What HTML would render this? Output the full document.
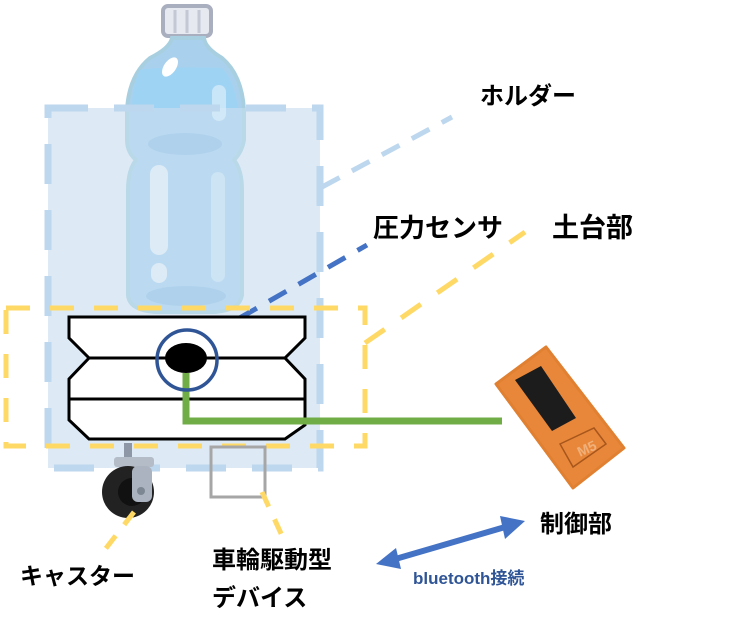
<!DOCTYPE html>
<html><head><meta charset="utf-8"><style>
html,body{margin:0;padding:0;background:#fff;}
svg{display:block;}
text{font-family:"Liberation Sans","Noto Sans CJK JP",sans-serif;font-weight:bold;}
</style></head><body>
<svg width="752" height="633" viewBox="0 0 752 633" xmlns="http://www.w3.org/2000/svg">
<rect x="48" y="108" width="272" height="360" fill="#deeaf6"/>
<!-- bottle -->
<rect x="163" y="6" width="48" height="30" rx="5" fill="#e6e9f0" stroke="#a9afbe" stroke-width="4"/>
<line x1="175" y1="10" x2="175" y2="33" stroke="#c3c8d4" stroke-width="3"/>
<line x1="187" y1="10" x2="187" y2="33" stroke="#c3c8d4" stroke-width="3"/>
<line x1="199" y1="10" x2="199" y2="33" stroke="#c3c8d4" stroke-width="3"/>
<path d="M172 38 L204 38 Q205 48 222 58 Q242 75 244 110 L244 140 Q242 152 234 160 Q242 170 242 190 L242 295 Q240 310 215 312 L155 312 Q129 310 128 295 L128 190 Q128 170 136 160 Q127 152 127 140 L127 110 Q129 75 150 58 Q170 48 172 38 Z" fill="#a9d1ee" stroke="#a8cfe0" stroke-width="4"/>
<path d="M140 70 Q160 66 222 68 Q234 80 238 108 L132 108 Q132 85 140 70Z" fill="#9fd3f3"/>
<ellipse cx="185" cy="144" rx="37" ry="11" fill="#97c4e6"/>
<ellipse cx="186" cy="296" rx="40" ry="10" fill="#97c4e6"/>
<rect x="150" y="165" width="18" height="90" rx="9" fill="#dcebf6"/>
<rect x="151" y="263" width="16" height="20" rx="8" fill="#dcebf6"/>
<rect x="211" y="172" width="14" height="110" rx="7" fill="#c4e0f3"/>
<rect x="212" y="85" width="14" height="36" rx="7" fill="#c9e6f8"/>
<ellipse cx="170" cy="67" rx="6" ry="11" transform="rotate(35 170 67)" fill="#fff"/>
<!-- holder box overlay -->
<rect x="48" y="108" width="272" height="360" fill="#deeaf6" fill-opacity="0.35"/>
<rect x="48" y="108" width="272" height="360" fill="none" stroke="#bdd7ee" stroke-width="7" stroke-dasharray="40,26"/>
<!-- leader lines -->
<line x1="322" y1="187" x2="452" y2="117" stroke="#bdd7ee" stroke-width="5" stroke-dasharray="20,14"/>
<line x1="210" y1="335" x2="367" y2="245" stroke="#4472c4" stroke-width="5" stroke-dasharray="20,14"/>
<!-- base yellow dashed -->
<rect x="6" y="308" width="359" height="138" fill="none" stroke="#ffd966" stroke-width="5" stroke-dasharray="24,20"/>
<line x1="365" y1="343" x2="525" y2="232" stroke="#ffd966" stroke-width="5" stroke-dasharray="24,20"/>
<!-- sandwich block -->
<path d="M69 317 L305 317 L305 338 L285 358 L305 379 L305 425 L285 439 L89 439 L69 420 L69 379 L89 358 L69 338 Z" fill="#fff" stroke="#000" stroke-width="3"/>
<line x1="89" y1="358" x2="285" y2="358" stroke="#000" stroke-width="3"/>
<line x1="69" y1="399" x2="305" y2="399" stroke="#000" stroke-width="3"/>
<ellipse cx="186" cy="358" rx="21" ry="15" fill="#000"/>
<path d="M186 373 L186 421 L502 421" fill="none" stroke="#70ad47" stroke-width="7"/>
<circle cx="187" cy="360" r="30" fill="none" stroke="#2f5597" stroke-width="3.5"/>
<!-- caster -->
<rect x="124" y="443" width="8" height="14" fill="#8d97a5"/>
<rect x="114" y="457" width="40" height="10" rx="3" fill="#b4bcc8"/>
<circle cx="128" cy="492" r="26" fill="#222"/>
<circle cx="132" cy="492" r="14" fill="#111"/>
<rect x="132" y="466" width="20" height="36" rx="6" fill="#aab3bf"/>
<circle cx="141" cy="491" r="4" fill="#7d8793"/>
<!-- drive device -->
<rect x="211" y="447" width="54" height="50" fill="none" stroke="#a6a6a6" stroke-width="3"/>
<line x1="262" y1="492" x2="284" y2="540" stroke="#ffd966" stroke-width="5" stroke-dasharray="16,14"/>
<line x1="134" y1="512" x2="100" y2="556" stroke="#ffd966" stroke-width="5" stroke-dasharray="16,14"/>
<!-- M5 device -->
<polygon points="496,384 546,347 624,448 573,488" fill="#e8873a" stroke="#e08030" stroke-width="3" stroke-linejoin="round"/>
<polygon points="515,380 541,366 576,418 552,431" fill="#1c1c1c"/>
<polygon points="560,444 594,428 606,444 573,467" fill="none" stroke="#a8561c" stroke-width="1.5"/>
<text x="580" y="457" font-size="14" fill="#f0b07a" transform="rotate(-25 580 457)" font-weight="normal">M5</text>
<!-- arrow -->
<line x1="392" y1="560" x2="512" y2="525" stroke="#4472c4" stroke-width="6"/>
<polygon points="376,564 396,548 401,569" fill="#4472c4"/>
<polygon points="525,521 500,516 505,539" fill="#4472c4"/>
<!-- labels -->
<text x="480" y="104" font-size="24">ホルダー</text>
<text x="373" y="237" font-size="26">圧力センサ</text>
<text x="552" y="237" font-size="27">土台部</text>
<text x="20" y="584" font-size="23">キャスター</text>
<text x="212" y="568" font-size="24">車輪駆動型</text>
<text x="212" y="606" font-size="24">デバイス</text>
<text x="540" y="532" font-size="24">制御部</text>
<text x="413" y="584" font-size="17" fill="#2f5597">bluetooth接続</text>
</svg>
</body></html>
